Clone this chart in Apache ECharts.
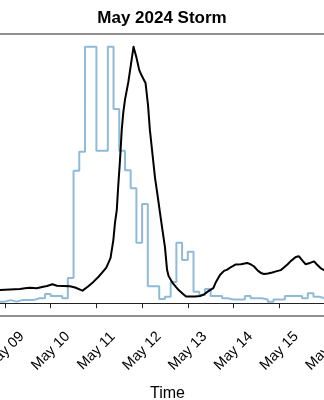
<!DOCTYPE html>
<html>
<head>
<meta charset="utf-8">
<script src="https://cdn.jsdelivr.net/npm/echarts@6/dist/echarts.min.js"></script>
<style>
html,body{margin:0;padding:0;background:#fff;}
#chart{width:324px;height:400px;}
</style>
</head>
<body>
<div id="chart"></div>
<script>
// Hours since 2024-05-09 00:00 UTC
var title = 'May 2024 Storm';
var xAxisName = 'Time';
var tickLabels = ['May 08','May 09','May 10','May 11','May 12','May 13','May 14','May 15','May 16','May 17'];

// Blue step series (3-hour bins, normalized), bins start at -3 h
var stepStartHour = -3;
var stepHours = 3;
var stepValues = [0.006, 0.012, 0.006, 0.012, 0.012, 0.012, 0.019, 0.019, 0.036, 0.028,
  0.028, 0.019, 0.098, 0.517, 0.591, 1.0, 1.0, 0.595, 0.595, 1.0,
  0.757, 0.595, 0.519, 0.448, 0.236, 0.387, 0.066, 0.066, 0.016, 0.025,
  0.083, 0.236, 0.168, 0.201, 0.045, 0.032, 0.055, 0.028, 0.028, 0.019,
  0.014, 0.014, 0.014, 0.028, 0.019, 0.019, 0.014, 0.006, 0.014, 0.014,
  0.028, 0.028, 0.028, 0.019, 0.039, 0.025, 0.019, 0.019];

// Black line (normalized)
var lineHours = [-5.3, -2.6, 2.6, 7.9, 10.5, 13.1, 16.6, 20.1, 22.1, 24.9, 27.3, 30.5, 34.1, 36.8, 40.7, 43.6, 46.4, 49.0, 50.9, 53.2, 55.4, 56.9, 57.8, 58.7, 59.5, 60.4, 61.3, 62.1, 63.0, 64.8, 67.5,
  69.1, 70.5, 71.9, 73.8, 75.1, 76.1, 77.5, 78.8, 80.1, 81.4, 82.7, 84.0, 85.1, 85.9, 88.2, 91.2, 93.5, 95.1, 99.8, 102.4, 104.5, 106.6, 109.4, 110.8, 112.9, 115.0, 116.7, 118.7, 121.2, 123.9, 127.2, 129.2, 130.8, 132.9, 134.4, 136.0, 138.1, 140.4, 142.3, 144.8, 146.5, 148.3, 150.2, 152.7, 154.4, 156.0, 157.8, 160.2, 162.3, 163.8, 165.7, 167.5, 170.7];
var lineValues = [0.051, 0.051, 0.053, 0.055, 0.058, 0.060, 0.058, 0.064, 0.067, 0.074, 0.068, 0.067, 0.066, 0.061, 0.049, 0.065, 0.083, 0.102, 0.118, 0.139, 0.176, 0.246, 0.316, 0.363, 0.461, 0.559, 0.675, 0.742, 0.793, 0.864, 1.0,
  0.956, 0.909, 0.886, 0.859, 0.773, 0.675, 0.578, 0.488, 0.422, 0.352, 0.285, 0.219, 0.130, 0.106, 0.077, 0.051, 0.036, 0.026, 0.026, 0.028, 0.034, 0.046, 0.059, 0.083, 0.110, 0.126, 0.131, 0.141, 0.151, 0.152, 0.157, 0.151, 0.143, 0.126, 0.118, 0.114, 0.116, 0.120, 0.124, 0.129, 0.139, 0.151, 0.165, 0.180, 0.183, 0.168, 0.152, 0.157, 0.163, 0.151, 0.137, 0.129, 0.126];

var stepData = stepValues.map(function (v, i) { return [stepStartHour + i * stepHours, v]; });
var n = Math.min(lineHours.length, lineValues.length);
var lineData = [];
for (var i = 0; i < n; i++) lineData.push([lineHours[i], lineValues[i]]);

var chart = echarts.init(document.getElementById('chart'), null, {renderer: 'canvas'});
chart.setOption({
  animation: false,
  backgroundColor: '#fff',
  title: {
    text: title, left: 'center', top: 5,
    textStyle: {fontFamily: 'Liberation Sans', fontWeight: 'bold', fontSize: 17, color: '#000'}
  },
  grid: {
    left: -40.7, right: -46.6, top: 34, bottom: 84,
    containLabel: false, outerBoundsMode: 'none',
    show: true, borderColor: '#222', borderWidth: 1.2, backgroundColor: 'transparent'
  },
  xAxis: {
    type: 'value', min: -24, max: 192, interval: 24,
    name: xAxisName, nameLocation: 'middle', nameGap: 70,
    nameTextStyle: {fontFamily: 'Liberation Sans', fontSize: 16, color: '#000', padding: [0, 0, 0, 5]},
    axisLine: {show: true, lineStyle: {color: '#222', width: 1.2}},
    axisTick: {show: true, length: 5, lineStyle: {color: '#222', width: 1}},
    splitLine: {show: false},
    axisLabel: {
      rotate: 45, align: 'center', verticalAlign: 'middle', margin: 35,
      fontFamily: 'Liberation Sans', fontSize: 14.5, color: '#000',
      formatter: function (v) { return tickLabels[Math.round((v + 24) / 24)] || ''; }
    }
  },
  yAxis: {
    type: 'value', min: -0.05, max: 1.05, show: false,
    splitLine: {show: false}
  },
  series: [
    {
      type: 'line', data: stepData, step: 'end', showSymbol: false,
      lineStyle: {color: '#8fbbd9', width: 2}, z: 2
    },
    {
      type: 'line', data: lineData, showSymbol: false, smooth: false,
      lineStyle: {color: '#000', width: 2, join: 'round'}, z: 3
    }
  ]
});
</script>
</body>
</html>
